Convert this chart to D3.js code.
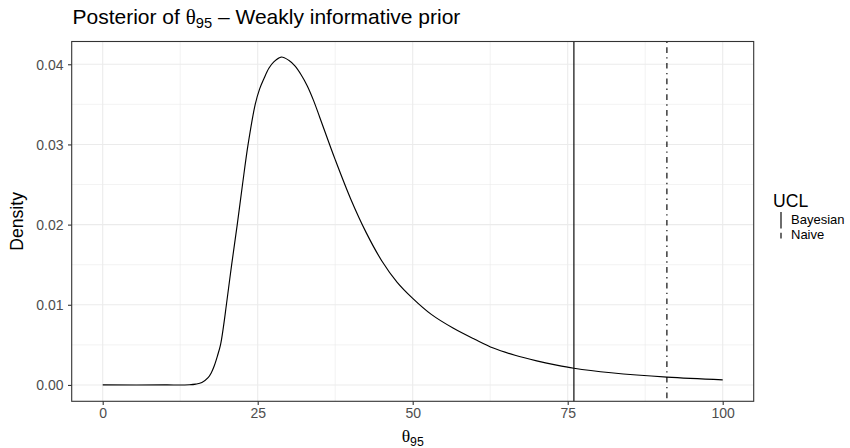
<!DOCTYPE html>
<html>
<head>
<meta charset="utf-8">
<script src="https://cdn.jsdelivr.net/npm/d3@7"></script>
<style>
  body { margin: 0; background: #fff; }
  text { font-family: "Liberation Sans", Arial, Helvetica, sans-serif; }
</style>
</head>
<body>
<svg id="chart" width="850" height="448"></svg>
<script>
// ---- data ----
const thetaValues = [0, 10, 14, 15, 16, 17, 17.5, 18, 18.5, 19, 19.5, 19.95, 20.8, 21.7, 22.55, 23.45, 24.6, 25.3, 26, 26.8, 27.6, 28.8, 30, 31, 32, 33, 34, 35, 37.5, 40, 42.5, 45, 47.5, 50, 53, 56.5, 60, 63, 66.5, 70, 73, 76, 82, 91, 100];
const densityValues = [0, 0, 0.00002, 0.0001, 0.0003, 0.0009, 0.0015, 0.0024, 0.0036, 0.0050, 0.0074, 0.0100, 0.0150, 0.0200, 0.0250, 0.0300, 0.0350, 0.0369, 0.0382, 0.0395, 0.0403, 0.0409, 0.0405, 0.0398, 0.0387, 0.0373, 0.0355, 0.0334, 0.0281, 0.0232, 0.0190, 0.0155, 0.0128, 0.0108, 0.0088, 0.0071, 0.0057, 0.0046, 0.0037, 0.0030, 0.0025, 0.00208, 0.00152, 0.00097, 0.00063];
const uclNames = ["Bayesian", "Naive"];
const uclValues = [76, 91];
const xTicks = [0, 25, 50, 75, 100];
const xMinor = [12.5, 37.5, 62.5, 87.5];
const yTicks = [0, 0.01, 0.02, 0.03, 0.04];
const yMinor = [0.005, 0.015, 0.025, 0.035];

const svg = d3.select("#chart");
const panel = { left: 71.7, right: 753.7, top: 41.5, bottom: 401.3 };

const x = d3.scaleLinear().domain([-5, 105]).range([panel.left, panel.right]);
const y = d3.scaleLinear().domain([-0.00204, 0.04284]).range([panel.bottom, panel.top]);

const grid = "#EBEBEB";
const dashFor = { Bayesian: null, Naive: "1.4,4.3,5.7,4.3" };
const serif = '"Liberation Serif", "DejaVu Serif", serif';

// background
svg.append("rect").attr("x", panel.left).attr("y", panel.top)
  .attr("width", panel.right - panel.left).attr("height", panel.bottom - panel.top)
  .attr("fill", "#fff");

// grid
const g = svg.append("g");
function vgrid(vals, w) {
  g.selectAll(null).data(vals).enter().append("line")
    .attr("x1", d => x(d)).attr("x2", d => x(d)).attr("y1", panel.top).attr("y2", panel.bottom)
    .attr("stroke", grid).attr("stroke-width", w);
}
function hgrid(vals, w) {
  g.selectAll(null).data(vals).enter().append("line")
    .attr("y1", d => y(d)).attr("y2", d => y(d)).attr("x1", panel.left).attr("x2", panel.right)
    .attr("stroke", grid).attr("stroke-width", w);
}
vgrid(xMinor, 0.6); hgrid(yMinor, 0.6);
vgrid(xTicks, 1.1); hgrid(yTicks, 1.1);

// density curve
const pts = thetaValues.map((t, i) => [t, densityValues[i]]);
svg.append("path").datum(pts)
  .attr("d", d3.line().x(d => x(d[0])).y(d => y(d[1])).curve(d3.curveCatmullRom.alpha(0.5)))
  .attr("fill", "none").attr("stroke", "#000").attr("stroke-width", 1.15);

// UCL lines
uclNames.forEach((n, i) => {
  svg.append("line")
    .attr("x1", x(uclValues[i])).attr("x2", x(uclValues[i]))
    .attr("y1", panel.top).attr("y2", panel.bottom)
    .attr("stroke", "#000").attr("stroke-width", 1.15)
    .attr("stroke-dasharray", dashFor[n]);
});

// panel border
svg.append("rect").attr("x", panel.left).attr("y", panel.top)
  .attr("width", panel.right - panel.left).attr("height", panel.bottom - panel.top)
  .attr("fill", "none").attr("stroke", "#333333").attr("stroke-width", 1.1);

// axes
const xAxis = d3.axisBottom(x).tickValues(xTicks).tickSize(3.7).tickPadding(3).tickFormat(d3.format("d"));
const gx = svg.append("g").attr("transform", `translate(0,${panel.bottom})`).call(xAxis);
const yAxis = d3.axisLeft(y).tickValues(yTicks).tickSize(3.7).tickPadding(4.5).tickFormat(d3.format(".2f"));
const gy = svg.append("g").attr("transform", `translate(${panel.left},0)`).call(yAxis);
[gx, gy].forEach(a => {
  a.select(".domain").remove();
  a.selectAll(".tick line").attr("stroke", "#333333").attr("stroke-width", 1.1);
  a.selectAll(".tick text").attr("fill", "#4D4D4D").style("font-size", "14px")
    .style("font-family", '"Liberation Sans", Arial, sans-serif');
});
gx.selectAll(".tick text").attr("dy", "0.71em");
gy.selectAll(".tick text").attr("dy", "0.36em");

// title
const title = svg.append("text").attr("x", 72.5).attr("y", 23.5).attr("fill", "#000").style("font-size", "21px");
title.append("tspan").text("Posterior of ");
title.append("tspan").text("θ").style("font-family", serif);
title.append("tspan").text("95").style("font-size", "14.7px").attr("dy", 4.5);
title.append("tspan").text(" – Weakly informative prior").attr("dy", -4.5);

// x axis title
const xt = svg.append("text").attr("x", x(50)).attr("y", 441.5).attr("text-anchor", "middle")
  .attr("fill", "#000").style("font-size", "17.6px");
xt.append("tspan").text("θ").style("font-family", serif);
xt.append("tspan").text("95").style("font-size", "12.3px").attr("dy", 4);

// y axis title
svg.append("text").attr("transform", `translate(23,${(panel.top + panel.bottom) / 2}) rotate(-90)`)
  .attr("text-anchor", "middle").attr("fill", "#000").style("font-size", "17.6px").text("Density");

// legend
const lg = svg.append("g");
lg.append("text").attr("x", 773).attr("y", 207).attr("fill", "#000").style("font-size", "17.6px").text("UCL");
const keyTop = 212, keyH = 15;
uclNames.forEach((n, i) => {
  const y0 = keyTop + i * keyH;
  lg.append("line").attr("x1", 781).attr("x2", 781).attr("y1", y0).attr("y2", y0 + keyH)
    .attr("stroke", "#000").attr("stroke-width", 1.15).attr("stroke-dasharray", dashFor[n]);
  lg.append("text").attr("x", 791).attr("y", y0 + keyH / 2).attr("dy", "0.36em")
    .attr("fill", "#000").style("font-size", "13px").text(n);
});
</script>
</body>
</html>
